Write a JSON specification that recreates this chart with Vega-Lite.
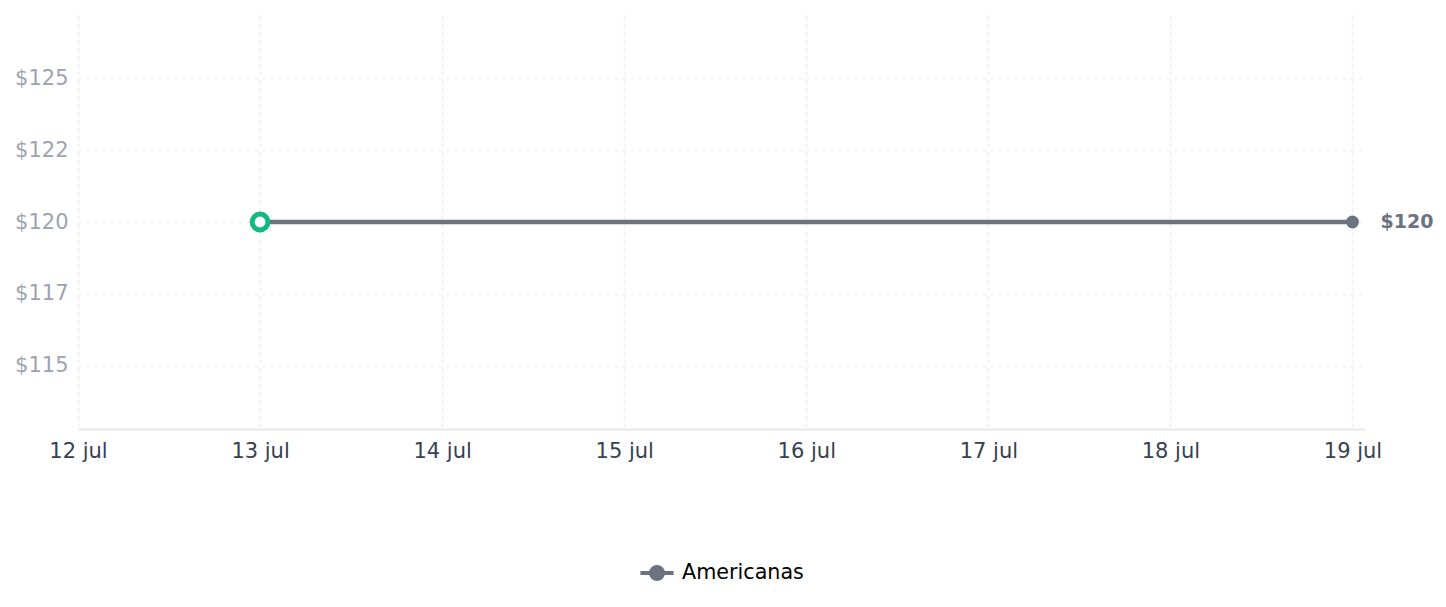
{
  "$schema": "https://vega.github.io/schema/vega-lite/v6.json",
  "width": 1287,
  "height": 414,
  "autosize": {"type": "none"},
  "padding": {"left": 78, "top": 15, "right": 81, "bottom": 178},
  "background": "white",
  "config": {
    "view": {"stroke": null},
    "font": "DejaVu Sans",
    "axis": {"labelFont": "DejaVu Sans", "gridDash": [4, 4], "gridColor": "#eeeeee", "gridWidth": 1.5, "ticks": false}
  },
  "data": {
    "values": [
      {"date": "2024-07-13T00:00:00Z", "price": 120, "store": "Americanas"},
      {"date": "2024-07-19T00:00:00Z", "price": 120, "store": "Americanas"}
    ]
  },
  "encoding": {
    "x": {
      "field": "date",
      "type": "temporal",
      "scale": {
        "type": "utc",
        "domain": [
          {"year": 2024, "month": 7, "date": 12, "utc": true},
          {"year": 2024, "month": 7, "date": 19, "hours": 1, "minutes": 39, "utc": true}
        ]
      },
      "axis": {
        "title": null,
        "values": [
          {"year": 2024, "month": 7, "date": 12, "utc": true},
          {"year": 2024, "month": 7, "date": 13, "utc": true},
          {"year": 2024, "month": 7, "date": 14, "utc": true},
          {"year": 2024, "month": 7, "date": 15, "utc": true},
          {"year": 2024, "month": 7, "date": 16, "utc": true},
          {"year": 2024, "month": 7, "date": 17, "utc": true},
          {"year": 2024, "month": 7, "date": 18, "utc": true},
          {"year": 2024, "month": 7, "date": 19, "utc": true}
        ],
        "labelExpr": "utcFormat(datum.value, '%-d') + ' jul'",
        "labelColor": "#374151",
        "labelFontSize": 21,
        "labelPadding": 11,
        "labelFlush": false,
        "labelOverlap": false,
        "domain": true,
        "domainColor": "#e5e7eb",
        "domainWidth": 2,
        "grid": true
      }
    },
    "y": {
      "field": "price",
      "type": "quantitative",
      "scale": {"domain": [112.8, 127.2], "zero": false, "nice": false},
      "axis": {
        "title": null,
        "values": [115, 117.5, 120, 122.5, 125],
        "labelExpr": "'$' + floor(datum.value)",
        "labelColor": "#9ca3af",
        "labelFontSize": 21,
        "labelPadding": 10,
        "domain": false,
        "grid": true
      }
    }
  },
  "layer": [
    {
      "mark": {"type": "line", "strokeWidth": 4.5},
      "encoding": {
        "color": {
          "field": "store",
          "type": "nominal",
          "scale": {"range": ["#6b7280"]},
          "legend": {
            "title": null,
            "orient": "none",
            "legendX": 560,
            "legendY": 539,
            "symbolType": "M-1,0L1,0M-0.36,0A0.36,0.36,0,1,1,0.36,0A0.36,0.36,0,1,1,-0.36,0Z",
            "symbolSize": 1100,
            "symbolStrokeWidth": 4,
            "symbolFillColor": "#6b7280",
            "symbolStrokeColor": "#6b7280",
            "labelFontSize": 20.7,
            "labelColor": "#000000",
            "labelFont": "DejaVu Sans",
            "labelOffset": 6,
            "encode": {"symbols": {"update": {"fill": {"value": "#6b7280"}, "stroke": {"value": "#6b7280"}, "strokeWidth": {"value": 4}}}}
          }
        }
      }
    },
    {
      "transform": [{"filter": "utcdate(datum.date) == 19"}],
      "mark": {"type": "circle", "color": "#6b7280", "size": 165, "opacity": 1}
    },
    {
      "transform": [{"filter": "utcdate(datum.date) == 19"}],
      "mark": {"type": "text", "align": "left", "baseline": "middle", "dx": 28, "fontSize": 19, "fontWeight": "bold", "color": "#6b7280"},
      "encoding": {"text": {"field": "price", "type": "quantitative", "format": "$.0f"}}
    },
    {
      "transform": [{"filter": "utcdate(datum.date) == 13"}],
      "mark": {"type": "point", "shape": "circle", "filled": false, "fill": "white", "fillOpacity": 1, "stroke": "#10b981", "strokeWidth": 5, "size": 250, "opacity": 1}
    }
  ]
}
